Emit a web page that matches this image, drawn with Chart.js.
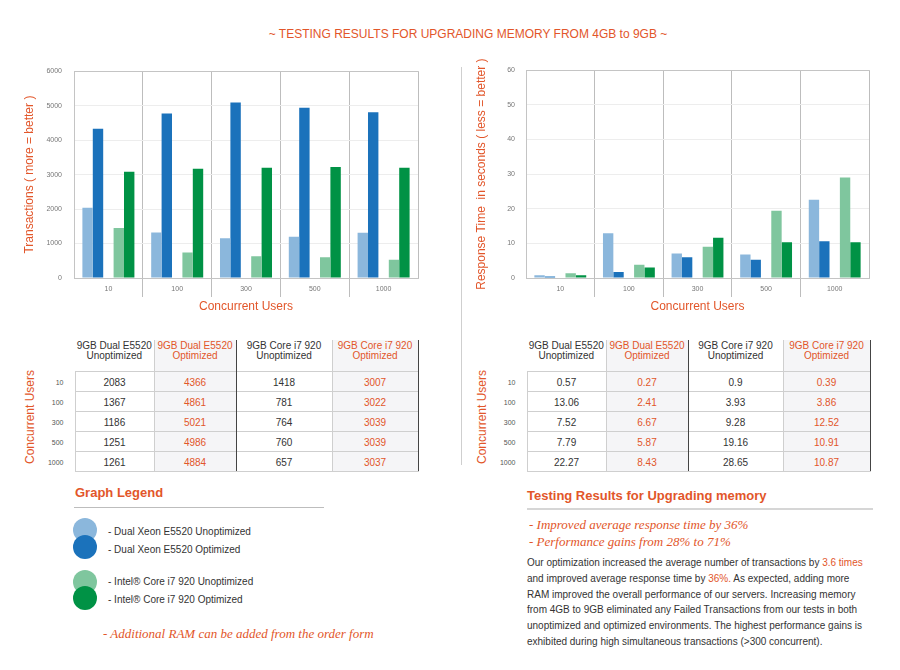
<!DOCTYPE html>
<html lang="en">
<head>
<meta charset="UTF-8">
<title>Testing results for upgrading memory</title>
<script src="https://cdn.jsdelivr.net/npm/chart.js"></script>
<style>
  body { margin: 0; background: #fff; font-family: Arial, "Liberation Sans", sans-serif; color: #333; }
  #page { position: relative; width: 900px; height: 670px; overflow: hidden; }
  .abs { position: absolute; }
  .orange { color: #e2562a; }
  #title { left: 0; width: 936px; top: 27px; text-align: center; font-size: 12px; line-height: 14px; color: #e2562a; }
  .chartBox { top: 55px; width: 440px; height: 265px; }
  #divider { left: 461px; top: 67px; width: 1px; height: 398px; background: #cfcfcf; }
  table.tbl { position: absolute; top: 340px; border-collapse: collapse; table-layout: fixed; font-size: 10px; }
  table.tbl td { padding: 0; text-align: center; }
  table.tbl tr.hd td { height: 30px; vertical-align: top; line-height: 10px; padding-top: 1px; }
  table.tbl tr.bd td { height: 17px; line-height: 17px; padding-top: 2px; border-top: 1px solid #cfcfcf; }
  table.tbl tr.bd:last-child td { border-bottom: 1px solid #cfcfcf; }
  table.tbl td.rl { font-size: 7px; color: #555; text-align: right; padding-right: 11px; border-top: none !important; border-bottom: none !important; }
  table.tbl tr.bd td.c1 { border-left: 1px solid #cfcfcf; }
  table.tbl td.c1 { border-right: 1px solid #cfcfcf; }
  table.tbl td.c2 { border-right: 1px solid #444; background: #f5f5f7; color: #e2562a; }
  table.tbl td.c3 { border-right: 1px solid #cfcfcf; }
  table.tbl td.c4 { border-right: 1px solid #444; background: #f5f5f7; color: #e2562a; }
  .vlabel { width: 120px; height: 14px; line-height: 14px; font-size: 12px; color: #e2562a; text-align: center; transform: rotate(-90deg); }
  .head { font-size: 13px; font-weight: bold; color: #e2562a; line-height: 16px; }
  .rule { height: 1px; background: #bdbdbd; }
  .dot { width: 24px; height: 24px; border-radius: 50%; }
  .leg { font-size: 10px; line-height: 12px; color: #333; }
  .serif { font-family: "Liberation Serif", "Times New Roman", serif; font-style: italic; color: #e2562a; font-size: 13px; line-height: 16.6px; }
  #para { left: 527px; top: 555px; font-size: 10px; line-height: 15.8px; color: #333; white-space: nowrap; }
</style>
</head>
<body>
<div id="page">
  <div id="title" class="abs">~ TESTING RESULTS FOR UPGRADING MEMORY FROM 4GB to 9GB ~</div>
  <div id="divider" class="abs"></div>

  <div class="abs chartBox" style="left:0px"><canvas id="transChart"></canvas></div>
  <div class="abs chartBox" style="left:450px"><canvas id="respChart"></canvas></div>

  <div class="abs vlabel" style="left:-30px; top:410px">Concurrent Users</div>
  <div class="abs vlabel" style="left:422px; top:410px">Concurrent Users</div>
  <table class="tbl" id="transTable" style="left:40px"></table>
  <table class="tbl" id="respTable" style="left:492px"></table>

  <div class="abs head" style="left:75px; top:485px">Graph Legend</div>
  <div class="abs rule" style="left:74px; top:507px; width:250px"></div>
  <div id="legend"></div>
  <div class="abs serif" style="left:103px; top:626px">- Additional RAM can be added from the order form</div>

  <div class="abs head" style="left:527px; top:488px">Testing Results for Upgrading memory</div>
  <div class="abs rule" style="left:527px; top:508px; width:346px; height:2px; background:#d6d6d6"></div>
  <div class="abs serif" style="left:529px; top:517px">- Improved average response time by 36%<br>- Performance gains from 28% to 71%</div>
  <div id="para" class="abs">Our optimization increased the average number of transactions by <span class="orange">3.6 times</span><br>and improved average response time by <span class="orange">36%.</span> As expected, adding more<br>RAM improved the overall performance of our servers. Increasing memory<br>from 4GB to 9GB eliminated any Failed Transactions from our tests in both<br>unoptimized and optimized environments. The highest performance gains is<br>exhibited during high simultaneous transactions (&gt;300 concurrent).</div>
</div>

<script>
// categories
const users = ['10', '100', '300', '500', '1000'];
const seriesNames = ['Dual Xeon E5520 Unoptimized', 'Dual Xeon E5520 Optimized', 'Intel® Core i7 920 Unoptimized', 'Intel® Core i7 920 Optimized'];
const tableHeads = ['9GB Dual E5520<br>Unoptimized', '9GB Dual E5520<br>Optimized', '9GB Core i7 920<br>Unoptimized', '9GB Core i7 920<br>Optimized'];

// bars
const transDualUnopt = [2040, 1320, 1150, 1200, 1310];
const transDualOpt   = [4330, 4770, 5090, 4940, 4810];
const transI7Unopt   = [1450, 740, 630, 600, 530];
const transI7Opt     = [3080, 3170, 3200, 3220, 3200];

const respDualUnopt = [0.8, 12.9, 7.1, 6.8, 22.6];
const respDualOpt   = [0.4, 1.7, 6.0, 5.3, 10.6];
const respI7Unopt   = [1.4, 3.8, 9.0, 19.4, 29.0];
const respI7Opt     = [0.8, 3.0, 11.6, 10.3, 10.3];

// tables
const tblTransDualUnopt = ['2083', '1367', '1186', '1251', '1261'];
const tblTransDualOpt   = ['4366', '4861', '5021', '4986', '4884'];
const tblTransI7Unopt   = ['1418', '781', '764', '760', '657'];
const tblTransI7Opt     = ['3007', '3022', '3039', '3039', '3037'];

const tblRespDualUnopt = ['0.57', '13.06', '7.52', '7.79', '22.27'];
const tblRespDualOpt   = ['0.27', '2.41', '6.67', '5.87', '8.43'];
const tblRespI7Unopt   = ['0.9', '3.93', '9.28', '19.16', '28.65'];
const tblRespI7Opt     = ['0.39', '3.86', '12.52', '10.91', '10.87'];

const colours = ['#8bb7dc', '#1b72bb', '#7fc69e', '#009245'];
const orange = '#e2562a';
const frame = '#c4c4c4';

Chart.defaults.font.family = 'Arial, "Liberation Sans", sans-serif';
Chart.defaults.animation = false;

function makeChart(id, series, yTitle, yMax, yStep, yWidth, titlePad, tickPad, rightPad) {
    // an empty dataset in the middle keeps the two pairs apart
    const sets = [];
    for (let i = 0; i < 4; i++) {
        if (i == 2) sets.push({ label: 'gap', data: users.map(() => null) });
        sets.push({ label: seriesNames[i], data: series[i], backgroundColor: colours[i],
                    barPercentage: 1.0, categoryPercentage: 0.756 });
    }
    return new Chart(document.getElementById(id), {
        type: 'bar',
        data: { labels: users, datasets: sets },
        options: {
            responsive: true,
            maintainAspectRatio: false,
            layout: { padding: { left: 0, top: 12, right: rightPad, bottom: 0 } },
            plugins: { legend: { display: false }, tooltip: { enabled: false } },
            scales: {
                x: {
                    grid: {
                        offset: true,
                        color: '#bdbdbd',
                        tickLength: 19,
                        tickColor: ctx => (ctx.index === undefined || ctx.index === 0) ? 'rgba(0,0,0,0)' : '#bdbdbd'
                    },
                    border: { color: frame },
                    ticks: { color: '#777', font: { size: 7 }, padding: -12 },
                    title: { display: true, text: 'Concurrent Users', color: orange,
                             font: { size: 12 }, padding: { top: 0, bottom: 6 } },
                    afterFit: scale => { scale.height = 42; }
                },
                y: {
                    min: 0, max: yMax,
                    grid: {
                        drawTicks: false,
                        color: ctx => ctx.tick && ctx.tick.value === yMax ? frame : '#ededed'
                    },
                    border: { color: frame },
                    ticks: { stepSize: yStep, color: '#777', font: { size: 7 }, padding: tickPad,
                             callback: v => String(v) },
                    title: { display: true, text: yTitle, color: orange,
                             font: { size: 12 }, padding: { top: titlePad, bottom: 0 } },
                    afterFit: scale => { scale.width = yWidth; }
                }
            }
        }
    });
}

makeChart('transChart', [transDualUnopt, transDualOpt, transI7Unopt, transI7Opt],
          'Transactions ( more = better )', 6000, 1000, 74, 22.8, 12, 22);
makeChart('respChart', [respDualUnopt, respDualOpt, respI7Unopt, respI7Opt],
          'Response Time  in seconds ( less = better )', 60, 10, 76, 24.8, 11, 21);

function fillTable(id, cols, widths) {
    const t = document.getElementById(id);
    let html = '<colgroup>';
    widths.forEach(w => { html += '<col style="width:' + w + 'px">'; });
    html += '</colgroup><tr class="hd"><td class="rl"></td>';
    tableHeads.forEach((h, j) => { html += '<td class="c' + (j + 1) + '">' + h + '</td>'; });
    html += '</tr>';
    users.forEach((u, i) => {
        html += '<tr class="bd"><td class="rl">' + u + '</td>';
        cols.forEach((c, j) => { html += '<td class="c' + (j + 1) + '">' + c[i] + '</td>'; });
        html += '</tr>';
    });
    t.innerHTML = html;
}
fillTable('transTable', [tblTransDualUnopt, tblTransDualOpt, tblTransI7Unopt, tblTransI7Opt], [35, 79, 82, 96, 86]);
fillTable('respTable', [tblRespDualUnopt, tblRespDualOpt, tblRespI7Unopt, tblRespI7Opt], [35, 79, 82, 95, 87]);

// graph legend
const legend = document.getElementById('legend');
const dotTops = [518, 535, 570, 586];
const textTops = [526, 544, 576, 594];
for (let i = 0; i < 4; i++) {
    const d = document.createElement('div');
    d.className = 'abs dot';
    d.style.left = '73px';
    d.style.top = dotTops[i] + 'px';
    d.style.background = colours[i];
    legend.appendChild(d);
    const s = document.createElement('div');
    s.className = 'abs leg';
    s.style.left = '108px';
    s.style.top = textTops[i] + 'px';
    s.textContent = '- ' + seriesNames[i];
    legend.appendChild(s);
}
</script>
</body>
</html>
